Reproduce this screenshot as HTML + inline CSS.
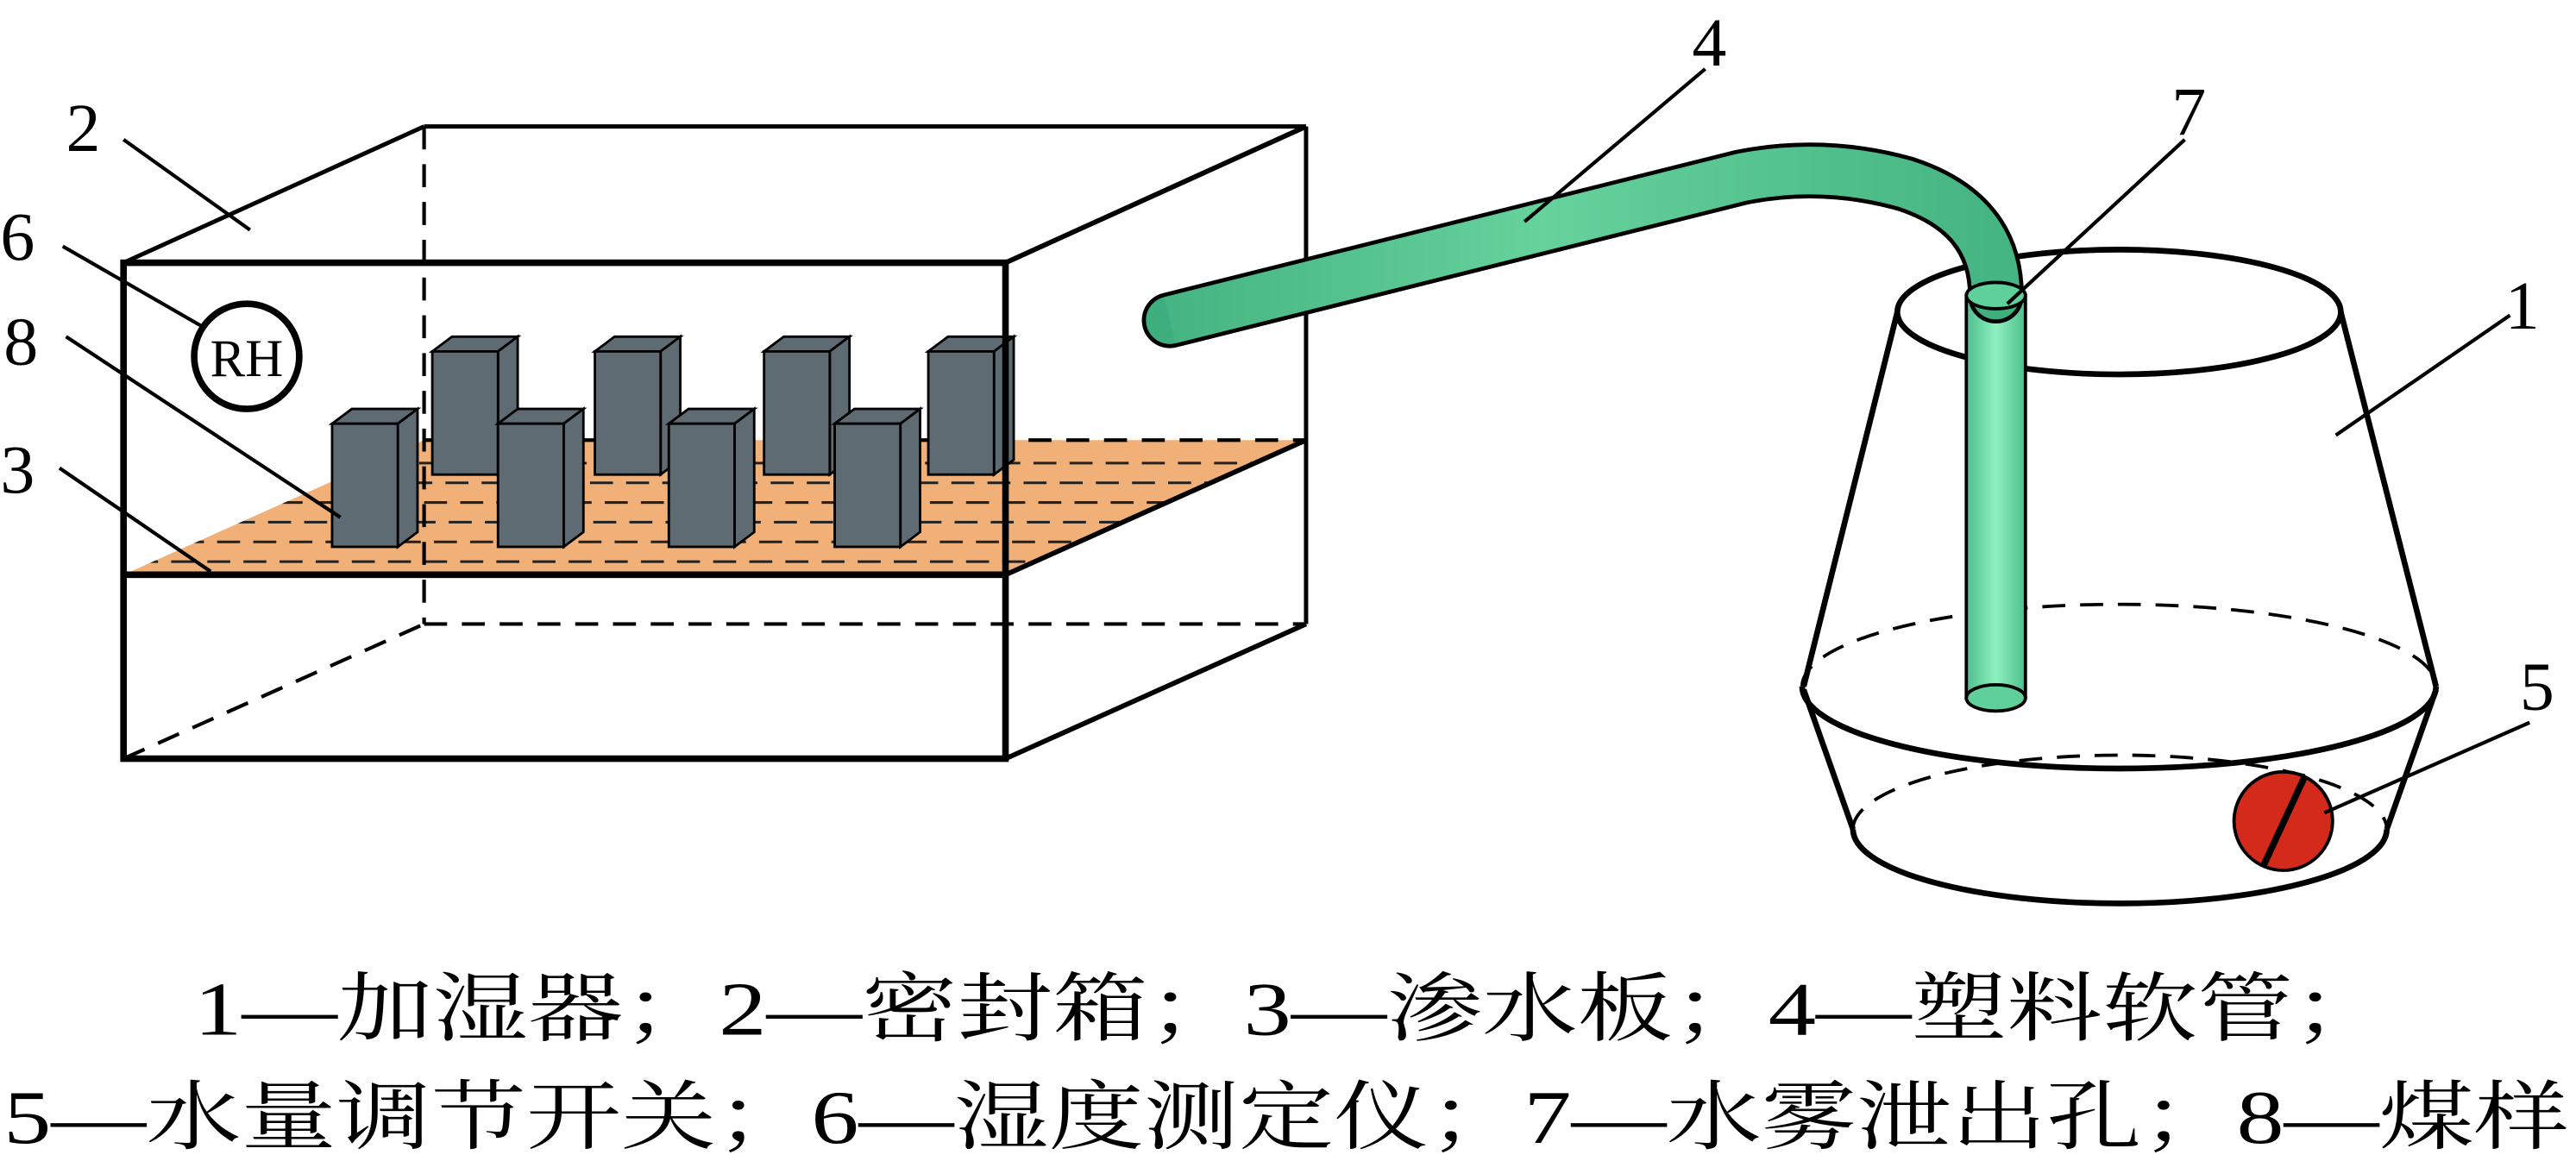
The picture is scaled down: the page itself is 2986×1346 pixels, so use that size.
<!DOCTYPE html>
<html><head><meta charset="utf-8"><style>
html,body{margin:0;padding:0;background:#fff}
svg{display:block}
text{font-family:"Liberation Serif","Noto Serif CJK SC",serif;fill:#000}
</style></head><body>
<svg width="2986" height="1346" viewBox="0 0 1568 707" xmlns="http://www.w3.org/2000/svg">
<defs>
<linearGradient id="hg" x1="0" y1="0" x2="1" y2="0">
<stop offset="0" stop-color="#3fae7e"/><stop offset="0.45" stop-color="#80e8b0"/><stop offset="1" stop-color="#3fae7e"/></linearGradient>
<linearGradient id="vg" x1="0" y1="0" x2="1" y2="0">
<stop offset="0" stop-color="#4dbf8c"/><stop offset="0.5" stop-color="#8ff0c0"/><stop offset="1" stop-color="#4dbf8c"/></linearGradient>
<clipPath id="pc"><polygon points="75,350 612,350 795,268 258,268"/></clipPath>
<g id="b"><polygon points="0,0 12,-9 52,-9 40,0"/><polygon points="40,0 52,-9 52,66 40,75"/><rect x="0" y="0" width="40" height="75"/></g>
</defs>
<!-- plate -->
<polygon points="75,350 612,350 795,268 258,268" fill="#f0b077"/>
<g clip-path="url(#pc)" stroke="#222" stroke-width="1.6" stroke-dasharray="14,8">
<line x1="60" y1="342" x2="800" y2="342"/><line x1="70" y1="330" x2="800" y2="330" stroke-dashoffset="4"/>
<line x1="60" y1="318" x2="800" y2="318" stroke-dashoffset="7"/><line x1="60" y1="306" x2="800" y2="306"/>
<line x1="60" y1="294" x2="800" y2="294" stroke-dashoffset="9"/><line x1="60" y1="282" x2="800" y2="282" stroke-dashoffset="3"/>
</g>
<line x1="258" y1="268" x2="795" y2="268" stroke="#000" stroke-width="2.2" stroke-dasharray="14,9"/>
<!-- box back dashed -->
<g stroke="#000" stroke-width="2.2" stroke-dasharray="14,9" fill="none">
<line x1="258" y1="77" x2="258" y2="380"/>
<line x1="258" y1="380" x2="795" y2="380"/>
<line x1="75" y1="462" x2="258" y2="380"/>
</g>
<g stroke="#000" stroke-width="2.6" fill="none">
<line x1="258" y1="77" x2="795" y2="77"/>
<line x1="75" y1="160" x2="258" y2="77"/>
<line x1="795" y1="77" x2="795" y2="380"/>
</g>
<!-- blocks -->
<g stroke="#000" stroke-width="1.5" fill="#5f6b73">
<use href="#b" x="263" y="214"/><use href="#b" x="362" y="214"/><use href="#b" x="465" y="214"/><use href="#b" x="565" y="214"/>
<use href="#b" x="202" y="258"/><use href="#b" x="303" y="258"/><use href="#b" x="407" y="258"/><use href="#b" x="508" y="258"/>
</g>
<!-- box front -->
<g stroke="#000" stroke-width="4" fill="none">
<rect x="75" y="160" width="537" height="302"/>
<line x1="75" y1="350" x2="612" y2="350"/>
<line x1="612" y1="160" x2="795" y2="77" stroke-width="3"/>
<line x1="612" y1="462" x2="795" y2="380" stroke-width="3"/>
<line x1="612" y1="350" x2="795" y2="268" stroke-width="3"/>
</g>
<circle cx="150" cy="217" r="32" fill="#fff" stroke="#000" stroke-width="4"/>
<text x="150" y="229" font-size="32" text-anchor="middle">RH</text>
<!-- humidifier -->
<g stroke="#000" stroke-width="3.5" fill="none">
<ellipse cx="1290" cy="190" rx="135" ry="38" fill="#fff"/>
<line x1="1155" y1="190" x2="1098" y2="418"/><line x1="1425" y1="190" x2="1483" y2="418"/>
<path d="M1097,418 A193,50 0 0,0 1483,418"/>
<path d="M1097,418 A193,50 0 0,1 1483,418" stroke-width="2" stroke-dasharray="14,9"/>
<line x1="1098" y1="420" x2="1128" y2="505"/><line x1="1483" y1="420" x2="1453" y2="505"/>
<path d="M1128,505 A162,45 0 0,0 1453,505"/>
<path d="M1128,505 A162,45 0 0,1 1453,505" stroke-width="2" stroke-dasharray="14,9"/>
</g>
<!-- vertical tube -->
<rect x="1197" y="180" width="36" height="245" fill="url(#vg)" stroke="#000" stroke-width="2"/>
<ellipse cx="1215" cy="425" rx="18" ry="8" fill="#5fd09a" stroke="#000" stroke-width="2"/>
<!-- hose -->
<path d="M712,195 L1060,108 Q1110,98 1160,112 Q1215,130 1215,180" stroke="#000" stroke-width="34" fill="none" stroke-linecap="round"/>
<path d="M712,195 L1060,108 Q1110,98 1160,112 Q1215,130 1215,180" stroke="url(#hg)" stroke-width="29" fill="none" stroke-linecap="round"/>
<path d="M712,195 L1060,108 Q1110,98 1160,112 Q1215,130 1215,180" stroke="#4cbb88" stroke-width="29" fill="none" stroke-opacity="0.5"/>
<ellipse cx="1215" cy="180" rx="18" ry="8" fill="#5fd09a" stroke="#000" stroke-width="2"/>
<!-- knob -->
<circle cx="1390" cy="500" r="30" fill="#d42a1c" stroke="#000" stroke-width="2"/>
<line x1="1378" y1="527" x2="1403" y2="473" stroke="#000" stroke-width="4"/>
<!-- leaders -->
<g stroke="#000" stroke-width="2.2">
<line x1="75" y1="85" x2="152" y2="140"/>
<line x1="38" y1="150" x2="125" y2="200"/>
<line x1="40" y1="205" x2="207" y2="315"/>
<line x1="36" y1="285" x2="128" y2="348"/>
<line x1="1038" y1="42" x2="928" y2="135"/>
<line x1="1330" y1="85" x2="1222" y2="185"/>
<line x1="1528" y1="192" x2="1422" y2="265"/>
<line x1="1540" y1="440" x2="1415" y2="495"/>
</g>
<g font-size="42">
<text x="40" y="92">2</text><text x="0" y="158">6</text><text x="2" y="222">8</text><text x="0" y="300">3</text>
<text x="1030" y="40">4</text><text x="1322" y="82">7</text><text x="1525" y="200">1</text><text x="1534" y="432">5</text>
</g>
<text x="118" y="630" font-size="46" textLength="1336" lengthAdjust="spacingAndGlyphs">1—加湿器；2—密封箱；3—渗水板；4—塑料软管；</text>
<text x="2" y="696" font-size="46" textLength="1562" lengthAdjust="spacingAndGlyphs">5—水量调节开关；6—湿度测定仪；7—水雾泄出孔；8—煤样</text>
</svg>
</body></html>
